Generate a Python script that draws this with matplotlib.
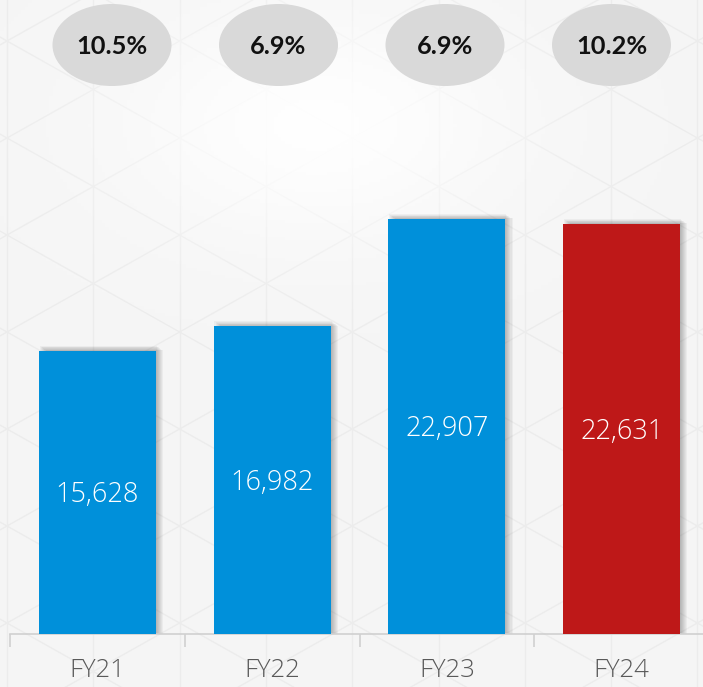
import numpy as np
import matplotlib.pyplot as plt
from matplotlib.patches import Ellipse, Rectangle

# data
years = ["FY21", "FY22", "FY23", "FY24"]
values = [15628, 16982, 22907, 22631]
growth = ["10.5%", "6.9%", "6.9%", "10.2%"]
bar_colors = ["#0090da", "#0090da", "#0090da", "#be1818"]

W, H = 703, 687
fig = plt.figure(figsize=(W / 100, H / 100), dpi=100)

# background with faint triangle pattern (pixel coords)
bg = fig.add_axes([0, 0, 1, 1], zorder=0)
bg.set_xlim(0, W)
bg.set_ylim(H, 0)
bg.axis("off")
bg.add_patch(Rectangle((0, 0), W, H, color="#f4f4f4", zorder=0))
dx, side = 86.3, 97.0
slope = (side / 2) / dx
lc = "#e9e9e9"
for k in range(-1, 10):
    bg.plot([7 + k * dx] * 2, [0, H], color=lc, lw=1, zorder=2)
for c in np.arange(-1500, 1500, side):
    xs = np.array([0, W])
    bg.plot(xs, 280 + c + slope * (xs - 7), color=lc, lw=1, zorder=2)
    bg.plot(xs, 280 + c - slope * (xs - 7), color=lc, lw=1, zorder=2)
gx, gy = np.meshgrid(np.linspace(0, 1, 200), np.linspace(0, 1, 200))
glow = np.exp(-((gx - 0.45) ** 2 / 0.08 + (gy - 0.18) ** 2 / 0.03))
bg.imshow(np.dstack([np.ones_like(glow)] * 3 + [glow * 0.8 + 0.15]),
          extent=[0, W, H, 0], zorder=3, aspect="auto")

# main bar axes
ax = fig.add_axes([10 / W, (H - 634) / H, 699 / W, 634 / H], zorder=2)
ax.patch.set_alpha(0)
x = np.arange(len(years))
bw = 0.67
ax.set_xlim(-0.5, 3.5)
ax.set_ylim(0, 35008)

# soft shadows
for i in range(7):
    off = 0.005 + i * 0.006
    ax.bar(x + off, np.array(values) + 40 * (7 - i), width=bw, color="#000000",
           alpha=0.04, zorder=2, linewidth=0)
ax.bar(x, values, width=bw, color=bar_colors, zorder=3, linewidth=0)

for xi, v in zip(x, values):
    ax.text(xi, v / 2 - 150, f"{v:,}", ha="center", va="center", color="white",
            fontsize=19.5, family="Open Sans", fontweight="light", zorder=4)

for s in ["top", "right", "left"]:
    ax.spines[s].set_visible(False)
ax.spines["bottom"].set_color("#d0d0d0")
ax.spines["bottom"].set_linewidth(1.2)
ax.set_yticks([])
ax.set_xticks([-0.5, 0.5, 1.5, 2.5, 3.5], minor=True)
ax.tick_params(axis="x", which="minor", length=9, color="#d0d0d0", width=1.2)
ax.set_xticks(x)
ax.set_xticklabels(years, family="Open Sans", fontweight="light", fontsize=18.5,
                   color="#595959")
ax.tick_params(axis="x", which="major", length=0, pad=17)

# growth bubbles
top = fig.add_axes([0, (H - 100) / H, 1, 100 / H], zorder=3)
top.set_xlim(-112 / 166.5, (W - 112) / 166.5)
top.set_ylim(100, 0)
top.axis("off")
for i, g in enumerate(growth):
    top.add_patch(Ellipse((i, 45), 119 / 166.5, 82, color="#d9d9d9", linewidth=0))
    top.text(i, 46, g, ha="center", va="center", fontsize=18.3, family="Lato",
             fontweight="bold", color="#111111")

fig.savefig("out.png", dpi=100)
